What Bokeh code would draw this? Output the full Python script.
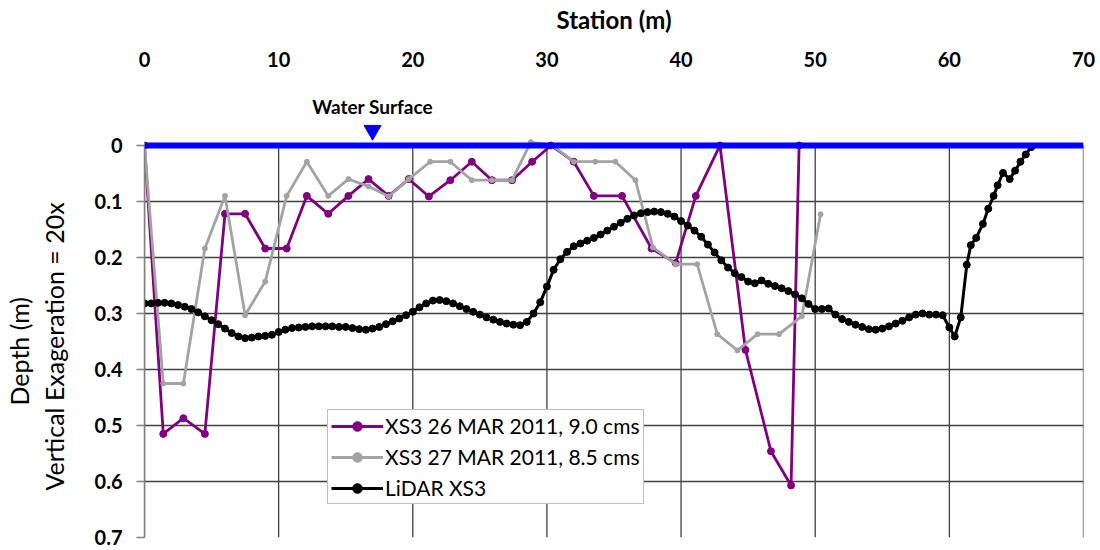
from bokeh.plotting import figure
from bokeh.models import (Range1d, FixedTicker, Span, Label, Legend, LegendItem,
                          CustomJSTickFormatter, Title)
from bokeh.embed import file_html
from bokeh.resources import INLINE

# Survey of 26 March 2011 (9.0 cms): station (m), depth (m)
xs3_mar26_station = [0, 1.4, 2.9, 4.5, 6.0, 7.5, 9.0, 10.6, 12.1, 13.7, 15.2, 16.7, 18.2, 19.7,
                     21.2, 22.8, 24.4, 25.9, 27.4, 28.9, 30.3, 32.0, 33.5, 35.6, 37.8, 39.6,
                     41.1, 42.9, 44.8, 46.7, 48.2, 48.8]
xs3_mar26_depth = [0, 0.515, 0.487, 0.515, 0.122, 0.122, 0.184, 0.184, 0.090, 0.122, 0.090, 0.060,
                   0.090, 0.060, 0.091, 0.062, 0.029, 0.062, 0.062, 0.029, 0.0, 0.029, 0.090,
                   0.090, 0.184, 0.210, 0.090, 0.0, 0.365, 0.546, 0.607, 0.0]

# Survey of 27 March 2011 (8.5 cms)
xs3_mar27_station = [0, 1.4, 2.9, 4.5, 6.0, 7.5, 9.0, 10.6, 12.1, 13.7, 15.2, 16.7, 18.2, 19.7,
                     21.3, 22.8, 24.4, 25.9, 27.4, 28.8, 30.4, 32.0, 33.6, 35.1, 36.6, 37.9,
                     39.6, 41.2, 42.7, 44.2, 45.7, 47.3, 49.0, 50.4]
xs3_mar27_depth = [0, 0.425, 0.425, 0.184, 0.090, 0.303, 0.243, 0.090, 0.029, 0.090, 0.060, 0.073,
                   0.091, 0.060, 0.029, 0.029, 0.062, 0.062, 0.062, -0.006, 0.0, 0.029, 0.029,
                   0.029, 0.062, 0.182, 0.212, 0.212, 0.337, 0.366, 0.337, 0.337, 0.305, 0.123]

# LiDAR cross-section XS3
lidar_station = [0, 0.5, 1.0, 1.5, 2.0, 2.5, 3.0, 3.5, 4.0, 4.5, 5.0, 5.5, 6.0, 6.5, 7.0, 7.5,
                 8.0, 8.5, 9.0, 9.5, 10.0, 10.5, 11.0, 11.5, 12.0, 12.5, 13.0, 13.5, 14.0, 14.5,
                 15.0, 15.5, 16.0, 16.5, 17.0, 17.5, 18.0, 18.5, 19.0, 19.5, 20.0, 20.5, 21.0,
                 21.5, 22.0, 22.5, 23.0, 23.5, 24.0, 24.5, 25.0, 25.5, 26.0, 26.5, 27.0, 27.5,
                 28.0, 28.5, 29.0, 29.5, 30.0, 30.5, 31.0, 31.5, 32.0, 32.5, 33.0, 33.5, 34.0,
                 34.5, 35.0, 35.5, 36.0, 36.5, 37.0, 37.5, 38.0, 38.5, 39.0, 39.5, 40.0, 40.5,
                 41.0, 41.5, 42.0, 42.5, 43.0, 43.5, 44.0, 44.5, 45.0, 45.5, 46.0, 46.5, 47.0,
                 47.5, 48.0, 48.5, 49.0, 49.5, 50.0, 50.5, 51.0, 51.5, 52.0, 52.5, 53.0, 53.5,
                 54.0, 54.5, 55.0, 55.5, 56.0, 56.5, 57.0, 57.5, 58.0, 58.5, 59.0, 59.5, 60.0,
                 60.4, 60.85, 61.3, 61.6, 62.0, 62.5, 62.9, 63.3, 63.6, 64.0, 64.5, 64.9, 65.3,
                 65.7, 66.1]
lidar_depth = [0.282, 0.282, 0.281, 0.281, 0.282, 0.285, 0.288, 0.292, 0.298, 0.305, 0.312, 0.319,
               0.327, 0.335, 0.341, 0.344, 0.343, 0.341, 0.340, 0.338, 0.333, 0.329, 0.326,
               0.325, 0.324, 0.323, 0.323, 0.323, 0.323, 0.324, 0.324, 0.326, 0.328, 0.329,
               0.327, 0.324, 0.319, 0.314, 0.309, 0.303, 0.297, 0.289, 0.282, 0.277, 0.276,
               0.278, 0.282, 0.287, 0.292, 0.297, 0.302, 0.307, 0.311, 0.315, 0.318, 0.320,
               0.321, 0.315, 0.300, 0.280, 0.252, 0.222, 0.203, 0.190, 0.180, 0.175, 0.170,
               0.165, 0.159, 0.152, 0.145, 0.138, 0.131, 0.125, 0.121, 0.119, 0.118, 0.119,
               0.122, 0.127, 0.135, 0.143, 0.152, 0.163, 0.177, 0.191, 0.205, 0.218, 0.228,
               0.235, 0.243, 0.246, 0.241, 0.247, 0.251, 0.255, 0.260, 0.266, 0.273, 0.283,
               0.292, 0.292, 0.291, 0.302, 0.310, 0.315, 0.320, 0.324, 0.328, 0.329, 0.327,
               0.323, 0.318, 0.313, 0.307, 0.302, 0.300, 0.302, 0.302, 0.303, 0.325, 0.341,
               0.307, 0.213, 0.178, 0.165, 0.140, 0.113, 0.090, 0.071, 0.049, 0.060, 0.045,
               0.029, 0.016, 0.003]

station_ticks = [0, 10, 20, 30, 40, 50, 60, 70]
depth_ticks = [0, 0.1, 0.2, 0.3, 0.4, 0.5, 0.6, 0.7]
water_surface_depth = 0.0
water_surface_marker_station = 17.0

FONT = "Lato"
GRID = "#404040"
PURPLE = "#800080"
GRAY = "#A3A3A3"

# the frame reaches above the water surface so the surface marker and its
# caption can sit over the profile
p = figure(width=1100, height=550, x_range=Range1d(0, 70), y_range=Range1d(0.7, -0.1071),
           x_axis_location="above", output_backend="svg", toolbar_location=None,
           min_border_left=144, min_border_right=17, min_border_top=85, min_border_bottom=13)
p.outline_line_color = None
p.background_fill_color = "white"

# top station axis
xa = p.xaxis[0]
xa.ticker = FixedTicker(ticks=station_ticks)
xa.axis_label = "Station (m)"
xa.axis_label_text_font = FONT
xa.axis_label_text_font_style = "bold"
xa.axis_label_text_font_size = "24px"
xa.axis_label_text_color = "black"
xa.axis_label_standoff = 15
xa.major_label_text_font = FONT
xa.major_label_text_font_style = "bold"
xa.major_label_text_font_size = "20px"
xa.major_label_text_color = "black"
xa.major_label_standoff = 19
xa.major_tick_out = 0
xa.major_tick_in = 0
xa.axis_line_color = None
xa.major_tick_line_color = None
xa.minor_tick_line_color = None

# left depth axis, drawn only over the depth span
ya = p.yaxis[0]
ya.ticker = FixedTicker(ticks=depth_ticks)
ya.bounds = (depth_ticks[0], depth_ticks[-1])
ya.formatter = CustomJSTickFormatter(code="return tick.toFixed(1).replace(/\\.0$/, '');")
ya.major_label_text_font = FONT
ya.major_label_text_font_style = "bold"
ya.major_label_text_font_size = "20px"
ya.major_label_text_color = "black"
ya.major_label_standoff = 14
ya.axis_line_color = "#808080"
ya.axis_line_width = 1.5
ya.major_tick_line_color = "#808080"
ya.major_tick_line_width = 1.5
ya.major_tick_out = 8
ya.major_tick_in = 0
ya.minor_tick_line_color = None

# two-line depth title, centred on the depth span rather than the whole frame
for text, offset, standoff in (("Vertical Exageration = 20x", 47, 46),
                               ("Depth (m)", 132, -40)):
    p.add_layout(Title(text=text, align="left", offset=offset, standoff=standoff,
                       text_font=FONT, text_font_style="normal", text_font_size="25px",
                       text_color="black"), "left")

# horizontal grid from the axis; vertical grid only over the depth span
p.ygrid[0].grid_line_color = GRID
p.ygrid[0].grid_line_width = 1.3
p.xgrid[0].visible = False
n_st = len(station_ticks)
p.segment(x0=station_ticks, y0=[depth_ticks[-1]] * n_st, x1=station_ticks,
          y1=[water_surface_depth] * n_st, line_color=GRID, line_width=1.3)

l1 = p.line(xs3_mar26_station, xs3_mar26_depth, line_color=PURPLE, line_width=2.8)
s1 = p.scatter(xs3_mar26_station, xs3_mar26_depth, marker="circle", size=7,
               fill_color=PURPLE, line_color=PURPLE)
l2 = p.line(xs3_mar27_station, xs3_mar27_depth, line_color=GRAY, line_width=2.8)
s2 = p.scatter(xs3_mar27_station, xs3_mar27_depth, marker="circle", size=5, fill_color=GRAY,
               line_color=GRAY)
l3 = p.line(lidar_station, lidar_depth, line_color="black", line_width=3)
s3 = p.scatter(lidar_station, lidar_depth, marker="circle", size=7, fill_color="black",
               line_color="black")

# water surface line, marker and caption
p.add_layout(Span(location=water_surface_depth, dimension="width", line_color="#0000FF",
                  line_width=6))
p.scatter([water_surface_marker_station], [water_surface_depth - 0.027],
          marker="inverted_triangle", size=17, fill_color="#0000FF", line_color="#0000FF")
p.add_layout(Label(x=water_surface_marker_station, y=water_surface_depth - 0.069,
                   text="Water Surface", text_color="black", text_font=FONT,
                   text_font_style="bold", text_font_size="19px", text_align="center",
                   text_baseline="middle"))

legend = Legend(items=[
    LegendItem(label="XS3 26 MAR 2011, 9.0 cms", renderers=[l1, s1]),
    LegendItem(label="XS3 27 MAR 2011, 8.5 cms", renderers=[l2, s2]),
    LegendItem(label="LiDAR XS3", renderers=[l3, s3]),
], location=(183, 33))
legend.label_text_font = FONT
legend.label_text_font_size = "21px"
legend.label_text_color = "black"
legend.label_height = 24
legend.glyph_height = 24
legend.glyph_width = 52
legend.label_standoff = 2
legend.spacing = 6
legend.padding = 3
legend.margin = 0
legend.border_line_color = "#7F7F7F"
legend.border_line_width = 1.5
legend.background_fill_color = "white"
legend.background_fill_alpha = 1.0
p.add_layout(legend)

open("out.html", "w").write(file_html(p, INLINE))
